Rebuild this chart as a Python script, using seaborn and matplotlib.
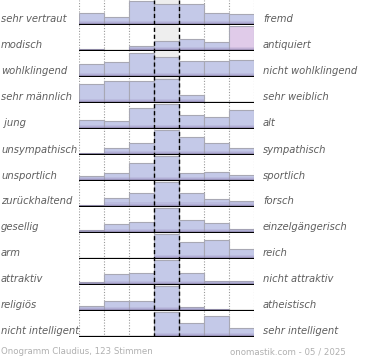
import numpy as np
import pandas as pd
import matplotlib
matplotlib.use("Agg")
import matplotlib.pyplot as plt
import seaborn as sns

# Onogramm data: each row is a pair of opposite attributes,
# values = bar height per column (25 = full row height)
left_labels = ["sehr vertraut", "modisch", "wohlklingend", "sehr männlich", " jung",
               "unsympathisch", "unsportlich", "zurückhaltend", "gesellig", "arm",
               "attraktiv", "religiös", "nicht intelligent"]
right_labels = ["fremd", "antiquiert", "nicht wohlklingend", "sehr weiblich", "alt",
                "sympathisch", "sportlich", "forsch", "einzelgängerisch", "reich",
                "nicht attraktiv", "atheistisch", "sehr intelligent"]
columns = ["1", "2", "3", "4", "5", "6", "7"]

vertraut = [12, 8, 24, 21, 21, 12, 11]
modisch = [2, 0, 5, 10, 12, 9, 25]
wohlklingend = [13, 15, 24, 20, 16, 16, 17]
maennlich = [19, 22, 22, 24, 8, 1.5, 0]
jung = [9, 8, 21, 25, 14, 12, 19]
unsympathisch = [2.3, 6.7, 11.7, 25, 18.3, 11.7, 7.3]
unsportlich = [5, 7.7, 17.7, 25, 8.3, 9.3, 6]
zurueckhaltend = [2, 9.3, 13.7, 25, 13.7, 8, 6]
gesellig = [3, 8.7, 11.3, 25, 13, 10.3, 3.7]
arm = [0, 0, 0, 25, 17.3, 19, 10]
attraktiv = [3.3, 10.7, 11.7, 25, 11.7, 4, 4]
religioes = [5.3, 10.3, 10.3, 25, 4.3, 2, 0]
intelligent = [0, 0, 1.3, 25, 14.3, 21.3, 9.3]

rows = [vertraut, modisch, wohlklingend, maennlich, jung, unsympathisch, unsportlich,
        zurueckhaltend, gesellig, arm, attraktiv, religioes, intelligent]
highlight = [(1, 6)]  # (row, column) drawn in pink

sns.set_style("white")
plt.rcParams["font.family"] = ["DejaVu Sans"]

W, H = 370, 360
fig = plt.figure(figsize=(W / 100, H / 100), dpi=100)
fig.patch.set_facecolor("white")

x0, x1 = 79, 254
row_step, row_h, first_base = 26, 25, 25
last_base = first_base + row_step * (len(rows) - 1)

# background grid (dotted lines behind bars)
bg = fig.add_axes([x0 / W, 1 - last_base / H, (x1 - x0) / W, last_base / H], zorder=0)
bg.set_xlim(-0.5, 6.5)
bg.set_ylim(0, 1)
bg.axis("off")
for xv in [-0.5, 0.5, 1.5, 4.5, 5.5, 6.5]:
    bg.axvline(xv, color="#999999", lw=0.8, ls=(0, (1, 1.5)))
bg.axvspan(2.5, 3.5, color="#eeeeee", lw=0)

lavender = "#c4c9e8"
pink = "#e0cbe9"
purple = "#9484c4"

for i, vals in enumerate(rows):
    base = first_base + row_step * i
    ax = fig.add_axes([x0 / W, 1 - base / H, (x1 - x0) / W, row_h / H], zorder=1)
    ax.patch.set_alpha(0)
    df = pd.DataFrame({"col": columns, "val": vals})
    sns.barplot(data=df, x="col", y="val", color=lavender, saturation=1, width=1,
                edgecolor="#a8a8b4", linewidth=0.8, ax=ax)
    for r, c in highlight:
        if r == i:
            ax.patches[c].set_facecolor(pink)
    # purple shading near the bottom of the bars
    for h, a in [(4.5, 0.2), (3, 0.25), (1.6, 0.3)]:
        shade = pd.DataFrame({"col": columns, "val": np.minimum(vals, h)})
        sns.barplot(data=shade, x="col", y="val", color=purple, alpha=a, width=1,
                    linewidth=0, ax=ax)
    ax.axhline(0, color="black", lw=1.6, zorder=5)
    ax.set_xlim(-0.5, 6.5)
    ax.set_ylim(0, row_h)
    ax.axis("off")

    yl = 1 - (base - 5.5) / H
    fig.text(1 / W, yl, left_labels[i], fontsize=7.2, style="italic",
             color="#5e5e5e", va="center", ha="left")
    fig.text(263 / W, yl, right_labels[i], fontsize=7.2, style="italic",
             color="#5e5e5e", va="center", ha="left")

# dashed lines around the middle column, on top
fg = fig.add_axes([x0 / W, 1 - last_base / H, (x1 - x0) / W, last_base / H], zorder=3)
fg.patch.set_alpha(0)
fg.set_xlim(-0.5, 6.5)
fg.set_ylim(0, 1)
fg.axis("off")
for xv in [2.5, 3.5]:
    fg.axvline(xv, color="black", lw=1.0, ls=(0, (3, 2)))

fig.text(1 / W, 1 - 352 / H, "Onogramm Claudius, 123 Stimmen", fontsize=6.2,
         color="#b0b0b0", va="center", ha="left")
fig.text(346 / W, 1 - 352 / H, "onomastik.com - 05 / 2025", fontsize=6.2,
         color="#b0b0b0", va="center", ha="right")

fig.savefig("out.png", dpi=100, facecolor="white")
